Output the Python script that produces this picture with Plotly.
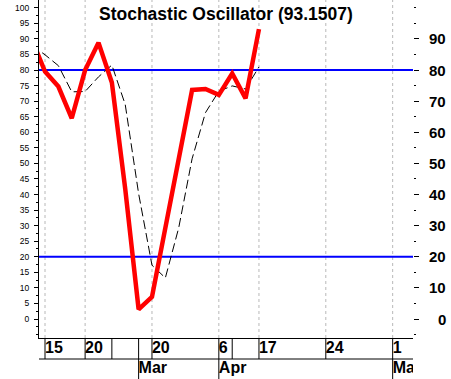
import plotly.graph_objects as go

# ---- data ----
idx = list(range(-1, 17))
k_values = [90.0, 79.5, 74.7, 64.5, 80.0, 88.8, 76.0, 41.8, 3.1, 7.1, 29.3, 51.5,
            73.6, 73.9, 72.0, 78.9, 70.9, 93.15]
d_values = [88.0, 84.9, 81.4, 73.0, 73.1, 77.8, 81.6, 68.9, 40.3, 17.3, 13.2, 29.3,
            51.5, 66.3, 73.2, 74.9, 73.9, 81.0]

day_label_idx = [0, 3, 8, 13, 16, 21, 26]
day_label_text = ["15", "20", "20", "6", "17", "24", "1"]
day_sep_idx = [0, 3, 5, 7, 8, 13, 14, 16, 21, 26]
month_idx = [7, 13, 26]
month_text = ["Mar", "Apr", "May"]

left_ticks = list(range(0, 101, 5))
right_ticks = list(range(0, 91, 10))
levels = [80, 20]
last_value = "93.1507"

FONT = "Liberation Sans"
W, H = 451, 379
XR = [-0.449, 27.52]
YR = [-6.1, 102.5]
row_frac = 41 / H

fig = go.Figure()

fig.add_trace(go.Scatter(x=idx, y=d_values, mode="lines",
                         line=dict(color="black", width=1, dash="9px,4px"),
                         xaxis="x", yaxis="y", hoverinfo="skip"))
fig.add_trace(go.Scatter(x=idx, y=k_values, mode="lines",
                         line=dict(color="#ff0000", width=4.5),
                         xaxis="x", yaxis="y2", hoverinfo="skip"))

# date rows (text clipped to the x range)
fig.add_trace(go.Scatter(x=day_label_idx, y=[30] * len(day_label_idx), mode="text",
                         text=day_label_text, textposition="middle right",
                         textfont=dict(family=FONT, size=16, color="black", weight="bold"),
                         xaxis="x2", yaxis="y3", cliponaxis=True, hoverinfo="skip"))
fig.add_trace(go.Scatter(x=month_idx, y=[10] * len(month_idx), mode="text",
                         text=month_text, textposition="middle right",
                         textfont=dict(family=FONT, size=16, color="black", weight="bold"),
                         xaxis="x2", yaxis="y3", cliponaxis=True, hoverinfo="skip"))

shapes = []
for gi in day_label_idx:
    shapes.append(dict(type="line", xref="x", yref="y domain", x0=gi, x1=gi, y0=0, y1=1,
                       line=dict(color="#b8b8b8", width=1, dash="3px,3px"), layer="below"))
for lv in levels:
    shapes.append(dict(type="line", xref="x domain", yref="y", x0=0, x1=1, y0=lv, y1=lv,
                       line=dict(color="#0000ff", width=2), layer="below"))
for si in day_sep_idx:
    shapes.append(dict(type="line", xref="x2", yref="y3", x0=si, x1=si, y0=20, y1=41,
                       line=dict(color="black", width=1)))
for mi in month_idx:
    shapes.append(dict(type="line", xref="x2", yref="y3", x0=mi, x1=mi, y0=0, y1=20,
                       line=dict(color="black", width=1)))
shapes.append(dict(type="line", xref="x2 domain", yref="y3", x0=0, x1=1, y0=20, y1=20,
                   line=dict(color="black", width=1)))

annotations = [dict(text="<b>Stochastic Oscillator (%s)</b>" % last_value,
                    xref="x domain", yref="paper", x=0.5, y=1 - 14 / H,
                    xanchor="center", yanchor="middle", showarrow=False,
                    font=dict(family=FONT, size=17.5, color="black"))]
for rt in right_ticks:
    annotations.append(dict(text="<b>%d</b>" % rt, xref="paper", yref="y",
                            x=(448 - 39) / (W - 39 - 38), y=rt, xanchor="right",
                            yanchor="middle", showarrow=False,
                            font=dict(family=FONT, size=15, color="black")))

fig.update_layout(
    width=W, height=H, margin=dict(l=39, r=38, t=0, b=0),
    paper_bgcolor="white", plot_bgcolor="white", showlegend=False,
    xaxis=dict(range=XR, domain=[0, 1], anchor="y", showgrid=False, zeroline=False,
               showticklabels=False, ticks="", showline=True, linecolor="black", linewidth=1),
    yaxis=dict(range=YR, domain=[row_frac, 1], anchor="x", showgrid=False, zeroline=False,
               tickvals=left_ticks, ticktext=[str(v) for v in left_ticks],
               ticks="outside", ticklen=4, tickcolor="black", ticklabelstandoff=3,
               tickfont=dict(family=FONT, size=8.5, color="black"),
               showline=True, linecolor="black", linewidth=1,
               minor=dict(tickvals=[v / 2 for v in range(-10, 201, 5)], ticks="outside",
                          ticklen=2, tickcolor="black")),
    yaxis2=dict(range=YR, overlaying="y", side="right", anchor="x", showgrid=False,
                zeroline=False, showline=False, showticklabels=False,
                tickvals=right_ticks, ticks="outside", ticklen=5, tickcolor="black",
                minor=dict(tickvals=list(range(-5, 101, 5)), ticks="outside",
                           ticklen=2, tickcolor="black")),
    xaxis2=dict(range=XR, domain=[0, 1], anchor="y3", showgrid=False, zeroline=False,
                showticklabels=False, ticks="", showline=False),
    yaxis3=dict(range=[0, 41], domain=[0, row_frac], anchor="x2", showgrid=False,
                zeroline=False, showticklabels=False, ticks="", showline=False),
    shapes=shapes, annotations=annotations,
)

fig.write_html("out.html", config={"displayModeBar": False},
               post_script="document.body.style.margin='0';")
